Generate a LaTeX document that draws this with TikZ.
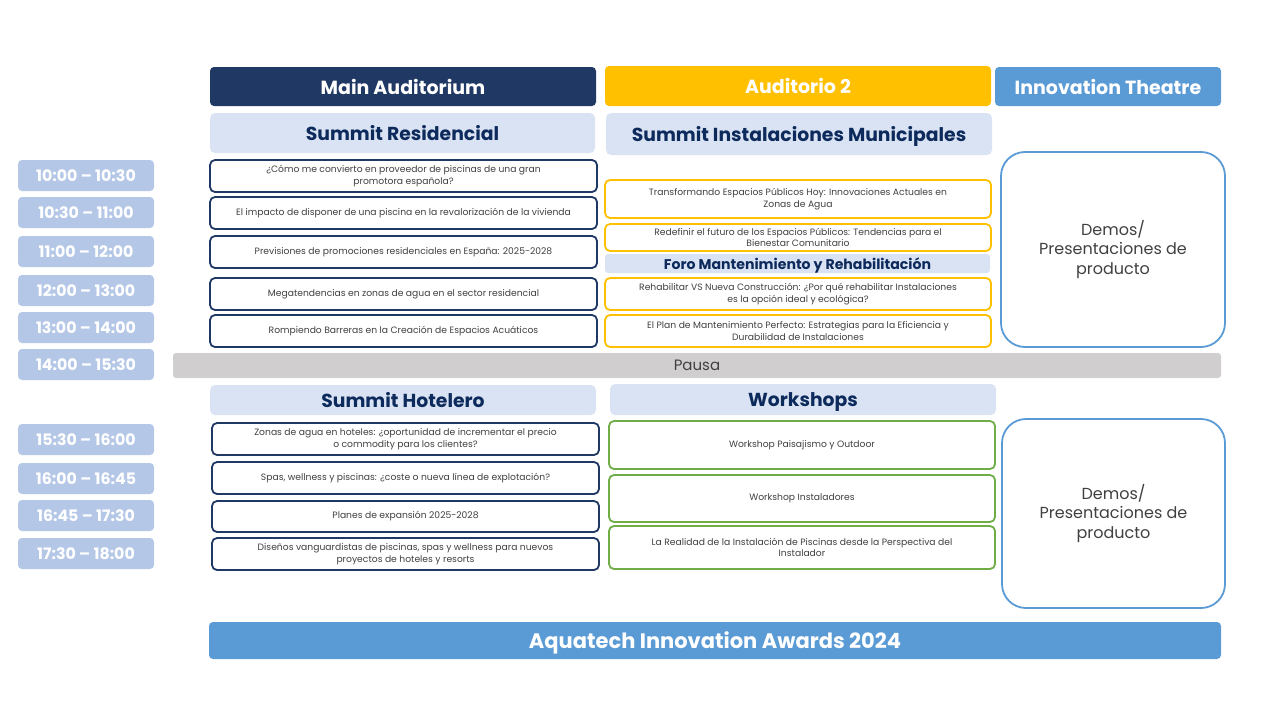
\documentclass[tikz,border=0pt]{standalone}
\usepackage{fontspec}
\setmainfont{Poppins}
\usetikzlibrary{positioning}
\definecolor{navy}{HTML}{203864}
\definecolor{navytext}{HTML}{0D2A5C}
\definecolor{gold}{HTML}{FFC000}
\definecolor{skyb}{HTML}{5B9BD5}
\definecolor{paleb}{HTML}{DAE3F3}
\definecolor{timeb}{HTML}{B4C7E7}
\definecolor{pausa}{HTML}{D0CECE}
\definecolor{grn}{HTML}{70AD47}
\definecolor{txtg}{HTML}{404040}
\tikzset{
  base/.style={anchor=north west, inner sep=0pt, outer sep=0pt, align=center},
  hdr/.style={base, text depth=0pt, rounded corners=4pt, text=white, font=\fontsize{19}{22}\selectfont\bfseries},
  sub/.style={base, text depth=0pt, rounded corners=5pt, fill=paleb, text=navytext, font=\fontsize{18.8}{22}\selectfont\bfseries},
  timebox/.style={base, rounded corners=4pt, fill=timeb, text=white, minimum width=136pt, minimum height=31pt, font=\fontsize{15.8}{18}\selectfont\bfseries},
  sess/.style={base, rounded corners=5pt, draw=navy, line width=1.8pt, fill=white, text=txtg, font=\fontsize{9.2}{11.5}\selectfont},
  ysess/.style={sess, draw=gold},
  gsess/.style={sess, draw=grn},
  demo/.style={base, rounded corners=24pt, draw=skyb, line width=1.8pt, text=txtg, font=\fontsize{16}{19.5}\selectfont},
}
\begin{document}
\begin{tikzpicture}[x=1pt,y=-1pt]
\useasboundingbox (0,0) rectangle (1280,720);
% headers
\node[hdr, fill=navy, minimum width=386pt, minimum height=39pt] (hmain) at (210,67) {Main Auditorium};
\node[hdr, fill=gold, minimum width=386pt, minimum height=40pt] (haud) at (605,66) {Auditorio 2};
\node[hdr, fill=skyb, minimum width=226pt, minimum height=39pt] (hinn) at (995,67) {Innovation Theatre};
\node[sub, minimum width=385pt, minimum height=40pt] (sres) at (210,113) {Summit Residencial};
\node[sub, minimum width=386pt, minimum height=42pt] (smun) at (606,113) {Summit Instalaciones Municipales};
% times
\node[timebox] (t1) at (18,160) {10:00 – 10:30};
\node[timebox] (t2) at (18,197) {10:30 – 11:00};
\node[timebox] (t3) at (18,236) {11:00 – 12:00};
\node[timebox] (t4) at (18,275) {12:00 – 13:00};
\node[timebox] (t5) at (18,312) {13:00 – 14:00};
\node[timebox] (t6) at (18,349) {14:00 – 15:30};
\node[timebox] (t7) at (18,424) {15:30 – 16:00};
\node[timebox] (t8) at (18,463) {16:00 – 16:45};
\node[timebox] (t9) at (18,500) {16:45 – 17:30};
\node[timebox] (t10) at (18,538) {17:30 – 18:00};
% residencial sessions
\node[sess, minimum width=387pt, minimum height=32pt] (r1) at (210,160) {¿Cómo me convierto en proveedor de piscinas de una gran\\promotora española?};
\node[sess, minimum width=387pt, minimum height=32pt] (r2) at (210,197) {El impacto de disponer de una piscina en la revalorización de la vivienda};
\node[sess, minimum width=387pt, minimum height=32pt] (r3) at (210,236) {Previsiones de promociones residenciales en España: 2025-2028};
\node[sess, minimum width=387pt, minimum height=32pt] (r4) at (210,278) {Megatendencias en zonas de agua en el sector residencial};
\node[sess, minimum width=387pt, minimum height=32pt] (r5) at (210,315) {Rompiendo Barreras en la Creación de Espacios Acuáticos};
% municipal sessions
\node[ysess, minimum width=386pt, minimum height=38pt] (m1) at (605,180) {Transformando Espacios Públicos Hoy: Innovaciones Actuales en\\Zonas de Agua};
\node[ysess, minimum width=386pt, minimum height=27pt] (m2) at (605,224) {Redefinir el futuro de los Espacios Públicos: Tendencias para el\\Bienestar Comunitario};
\node[sub, rounded corners=3pt, minimum width=385pt, minimum height=19pt, font=\fontsize{14.1}{16}\selectfont\bfseries] (foro) at (605,254) {Foro Mantenimiento y Rehabilitación};
\node[ysess, minimum width=386pt, minimum height=32pt] (m3) at (605,278) {Rehabilitar VS Nueva Construcción: ¿Por qué rehabilitar Instalaciones\\es la opción ideal y ecológica?};
\node[ysess, minimum width=386pt, minimum height=32pt] (m4) at (605,315) {El Plan de Mantenimiento Perfecto: Estrategias para la Eficiencia y\\Durabilidad de Instalaciones};
% demos
\node[demo, minimum width=224pt, minimum height=195pt] (d1) at (1001,152) {Demos/\\Presentaciones de\\producto};
\node[demo, minimum width=223pt, minimum height=189pt] (d2) at (1002,419) {Demos/\\Presentaciones de\\producto};
% pausa
\node[base, fill=pausa, rounded corners=3pt, minimum width=1048pt, minimum height=25pt, text=txtg, font=\fontsize{15}{17}\selectfont] (pausa) at (173,353) {Pausa};
% afternoon
\node[sub, minimum width=386pt, minimum height=30pt] (shot) at (210,385) {Summit Hotelero};
\node[sub, minimum width=386pt, minimum height=31pt] (swork) at (610,384) {Workshops};
\node[sess, minimum width=387pt, minimum height=32pt] (h1) at (212,423) {Zonas de agua en hoteles: ¿oportunidad de incrementar el precio\\o commodity para los clientes?};
\node[sess, minimum width=387pt, minimum height=32pt] (h2) at (212,462) {Spas, wellness y piscinas: ¿coste o nueva línea de explotación?};
\node[sess, minimum width=387pt, minimum height=31pt] (h3) at (212,501) {Planes de expansión 2025-2028};
\node[sess, minimum width=387pt, minimum height=32pt] (h4) at (212,538) {Diseños vanguardistas de piscinas, spas y wellness para nuevos\\proyectos de hoteles y resorts};
\node[gsess, minimum width=386pt, minimum height=48pt] (w1) at (609,421) {Workshop Paisajismo y Outdoor};
\node[gsess, minimum width=386pt, minimum height=47pt] (w2) at (609,475) {Workshop Instaladores};
\node[gsess, minimum width=386pt, minimum height=43pt] (w3) at (609,526) {La Realidad de la Instalación de Piscinas desde la Perspectiva del\\Instalador};
% awards
\node[hdr, fill=skyb, minimum width=1012pt, minimum height=37pt, font=\fontsize{21}{24}\selectfont\bfseries] (awards) at (209,622) {Aquatech Innovation Awards 2024};
\end{tikzpicture}
\end{document}
